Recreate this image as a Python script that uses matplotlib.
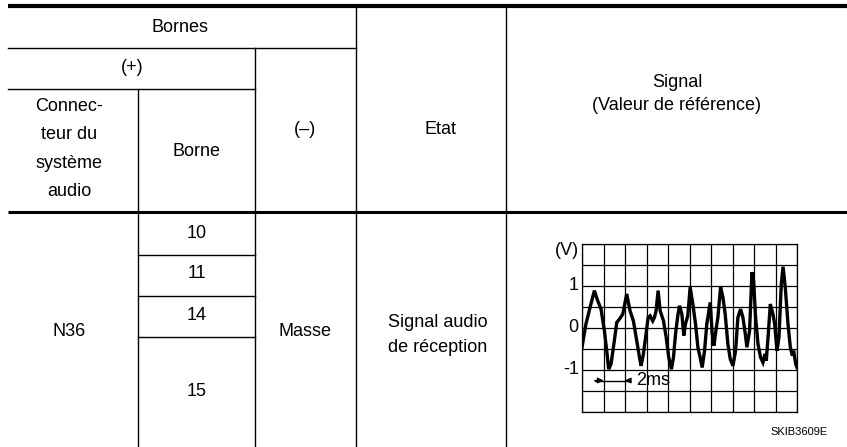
import numpy as np
import matplotlib.pyplot as plt

plt.rcParams['font.family'] = ['Liberation Sans', 'DejaVu Sans']

# table texts
header_top = "Bornes"
header_plus = "(+)"
header_conn = "Connec-\nteur du\nsystème\naudio"
header_borne = "Borne"
header_minus = "(–)"
header_etat = "Etat"
header_signal = "Signal\n(Valeur de référence)"
connector = "N36"
bornes = ["10", "11", "14", "15"]
masse = "Masse"
etat = "Signal audio\nde réception"
ref_code = "SKIB3609E"

# waveform (time in ms, voltage in V)
t_ms = [0.0, 0.37, 0.75, 1.15, 1.46, 1.77, 2.08, 2.30, 2.48, 2.70, 3.01, 3.23, 3.48,
        3.79, 4.16, 4.47, 4.78, 5.09, 5.40, 5.50, 5.71, 5.96, 6.15, 6.34, 6.58, 6.74,
        6.89, 7.08, 7.27, 7.58, 7.83, 8.07, 8.32, 8.51, 8.70, 8.91, 9.07, 9.29, 9.47,
        9.63, 9.84, 10.06, 10.31, 10.56, 10.78, 10.99, 11.18, 11.40, 11.61, 11.93,
        12.11, 12.27, 12.48, 12.64, 12.89, 13.11, 13.32, 13.57, 13.79, 14.04, 14.29,
        14.50, 14.75, 14.97, 15.19, 15.34, 15.59, 15.81, 15.96, 16.15, 16.37, 16.61,
        16.83, 17.02, 17.14, 17.33, 17.52, 17.76, 17.92, 18.14, 18.32, 18.54, 18.70,
        18.91, 19.16, 19.38, 19.57, 19.69, 19.88, 20.0]
volts = [-0.46, 0.10, 0.49, 0.89, 0.65, 0.45, -0.06, -0.54, -0.98, -0.86, -0.30, 0.13, 0.21,
         0.33, 0.81, 0.41, 0.17, -0.30, -0.78, -0.90, -0.62, -0.14, 0.25, 0.29, 0.17, 0.25,
         0.41, 0.89, 0.41, 0.17, -0.22, -0.70, -0.98, -0.70, -0.14, 0.29, 0.53, 0.33, -0.18,
         0.10, 0.29, 0.97, 0.57, 0.10, -0.46, -0.70, -0.94, -0.54, 0.10, 0.61,
         -0.14, -0.42, -0.02, 0.25, 0.97, 0.73, 0.33, -0.38, -0.74, -0.90, -0.54,
         0.25, 0.45, 0.25, -0.14, -0.46, -0.06, 1.33, 1.13, 0.25, -0.38, -0.70,
         -0.82, -0.62, -0.78, -0.14, 0.57, 0.33, 0.10, -0.54, -0.22, 1.05, 1.46,
         0.97, 0.10, -0.46, -0.66, -0.54, -0.86, -0.94]
v_labels = [1, 0, -1]

W, H = 847, 447
fig = plt.figure(figsize=(W / 100, H / 100), dpi=100)
ax = fig.add_axes([0, 0, 1, 1])
ax.set_xlim(0, W)
ax.set_ylim(H, 0)
ax.axis('off')

fs = 13
lw = 1.0

# horizontal rules
ax.plot([8, W], [6, 6], color='black', lw=3.0, solid_capstyle='butt')
ax.plot([8, W], [212, 212], color='black', lw=2.2, solid_capstyle='butt')
ax.plot([8, 356], [48, 48], color='black', lw=lw)
ax.plot([8, 255], [89, 89], color='black', lw=lw)
for y in [255, 296, 337]:
    ax.plot([138, 255], [y, y], color='black', lw=lw)

# vertical rules
ax.plot([138, 138], [89, H], color='black', lw=lw)
ax.plot([255, 255], [48, H], color='black', lw=lw)
ax.plot([356, 356], [7, H], color='black', lw=lw)
ax.plot([506, 506], [7, H], color='black', lw=lw)

# header texts
ax.text(180, 27, header_top, ha='center', va='center', fontsize=fs)
ax.text(132, 68, header_plus, ha='center', va='center', fontsize=fs)
ax.text(69, 149, header_conn, ha='center', va='center', fontsize=fs, linespacing=1.85)
ax.text(197, 151, header_borne, ha='center', va='center', fontsize=fs)
ax.text(305, 130, header_minus, ha='center', va='center', fontsize=fs)
ax.text(440, 130, header_etat, ha='center', va='center', fontsize=fs)
ax.text(677, 94, header_signal, ha='center', va='center', fontsize=fs, linespacing=1.4)

# body texts
ax.text(69, 332, connector, ha='center', va='center', fontsize=fs)
for label, y in zip(bornes, [233, 273, 315, 392]):
    ax.text(197, y, label, ha='center', va='center', fontsize=fs)
ax.text(305, 332, masse, ha='center', va='center', fontsize=fs)
ax.text(438, 335, etat, ha='center', va='center', fontsize=fs, linespacing=1.65)
ax.text(828, 432, ref_code, ha='right', va='center', fontsize=8)

# oscilloscope screen
x0, x1, y0, y1 = 582, 797, 244, 412
sc = fig.add_axes([x0 / W, (H - y1) / H, (x1 - x0) / W, (y1 - y0) / H])
sc.set_xlim(0, 20)
sc.set_ylim(-2, 2)
sc.set_xticks(np.arange(0, 21, 2))
sc.set_yticks(np.arange(-2, 2.01, 0.5))
sc.grid(True, color='black', lw=0.9)
sc.tick_params(length=0, labelbottom=False, labelleft=False)
for s in sc.spines.values():
    s.set_linewidth(0.9)
sc.plot(t_ms, volts, color='black', lw=2.4, solid_joinstyle='miter')
for v in v_labels:
    sc.text(-0.3, v, str(v), ha='right', va='center', fontsize=fs, clip_on=False)
sc.text(-0.3, 1.85, "(V)", ha='right', va='center', fontsize=fs, clip_on=False)

# 2 ms time marker, arrows pointing inward to one division
ya = -1.25
sc.plot([1.2, 4.5], [ya, ya], color='black', lw=1.0)
sc.annotate('', xy=(2, ya), xytext=(1.2, ya),
            arrowprops=dict(arrowstyle='-|>', color='black', lw=1.0, mutation_scale=8, shrinkA=0, shrinkB=0))
sc.annotate('', xy=(4, ya), xytext=(4.5, ya),
            arrowprops=dict(arrowstyle='-|>', color='black', lw=1.0, mutation_scale=8, shrinkA=0, shrinkB=0))
sc.text(5.0, ya, "2ms", ha='left', va='center', fontsize=fs)

fig.savefig('out.png', dpi=100)
